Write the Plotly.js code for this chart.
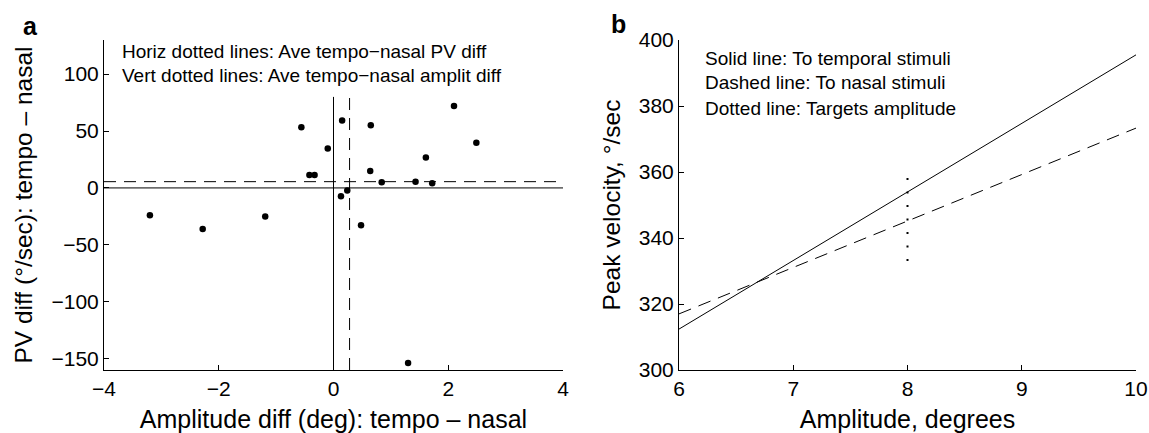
<!DOCTYPE html>
<html>
<head>
<meta charset="utf-8">
<script src="https://cdn.plot.ly/plotly-3.0.1.min.js"></script>
<style>html,body{margin:0;padding:0;background:#fff;}#chart{width:1149px;height:433px;}</style>
</head>
<body>
<div id="chart"></div>
<script>
// Panel a data: tempo - nasal differences per subject
const ampDiff = [-3.20, -2.28, -1.19, -0.56, -0.42, -0.33, -0.10, 0.15, 0.13, 0.24, 0.48, 0.65, 0.64, 0.84, 1.43, 1.61, 1.72, 2.10, 2.49, 1.30];
const pvDiff  = [-23.9, -36.2, -25.1, 53.4, 11.4, 11.4, 34.7, 59.2, -7.3, -2.3, -32.9, 55.1, 14.9, 5.0, 5.5, 26.8, 4.1, 72.0, 39.7, -153.9];
// average differences (dashed reference lines)
const meanPV = 5.5;
const meanAmp = 0.28;
// reference line extents
const aXRange = [-4, 4];
const aYRange = [-160, 130];
const vertLineY = [-160, 80];
const zeroX = [0, 0];
const zeroY = [0, 0];

// Panel b data: main sequence fits
const ampB = [6, 10];
const pvTemporal = [312.4, 395.5];
const pvNasal = [317.0, 373.3];
const targetAmp = [8, 8];
const targetPV = [333, 360.5];
const bXRange = [6, 10];
const bYRange = [300, 400];

const aTicksX = [-4, -2, 0, 2, 4];
const aTicksY = [-150, -100, -50, 0, 50, 100];
const bTicksX = [6, 7, 8, 9, 10];
const bTicksY = [300, 320, 340, 360, 380, 400];

const FONT = 'Liberation Sans, Arial, Helvetica, sans-serif';
const blk = '#000';

const traces = [
  {x: aXRange, y: zeroY, mode: 'lines', line: {color: blk, width: 1}, xaxis: 'x', yaxis: 'y', hoverinfo: 'skip'},
  {x: zeroX, y: vertLineY, mode: 'lines', line: {color: blk, width: 1}, xaxis: 'x', yaxis: 'y', hoverinfo: 'skip'},
  {x: aXRange, y: [meanPV, meanPV], mode: 'lines', line: {color: blk, width: 1, dash: '12px,8px'}, xaxis: 'x', yaxis: 'y'},
  {x: [meanAmp, meanAmp], y: vertLineY, mode: 'lines', line: {color: blk, width: 1, dash: '12px,8px'}, xaxis: 'x', yaxis: 'y'},
  {x: ampDiff, y: pvDiff, mode: 'markers', marker: {color: blk, size: 6.5}, xaxis: 'x', yaxis: 'y'},
  {x: ampB, y: pvTemporal, mode: 'lines', line: {color: blk, width: 1}, xaxis: 'x2', yaxis: 'y2'},
  {x: ampB, y: pvNasal, mode: 'lines', line: {color: blk, width: 1, dash: '13px,8px'}, xaxis: 'x2', yaxis: 'y2'},
  {x: targetAmp, y: targetPV, mode: 'lines', line: {color: blk, width: 2, dash: '2px,11.5px'}, xaxis: 'x2', yaxis: 'y2'}
];

const axBase = {
  showline: true, linecolor: blk, linewidth: 1, mirror: false,
  ticks: 'inside', ticklen: 5, tickcolor: blk, tickwidth: 1,
  showgrid: false, zeroline: false, automargin: false,
  tickfont: {family: FONT, size: 21, color: blk}
};

const W = 1149, H = 433;
const plotTop = 40, plotBot = 370;
const yDom = [(H - plotBot) / H, (H - plotTop) / H];

const layout = {
  width: W, height: H,
  margin: {l: 0, r: 0, t: 0, b: 0},
  paper_bgcolor: '#fff', plot_bgcolor: '#fff',
  showlegend: false,
  font: {family: FONT, color: blk},
  xaxis: Object.assign({}, axBase, {domain: [104 / W, 563 / W], range: aXRange, tickvals: aTicksX,
    anchor: 'y', title: {text: 'Amplitude diff (deg): tempo – nasal', font: {family: FONT, size: 25, color: blk}, standoff: 12}}),
  yaxis: Object.assign({}, axBase, {domain: yDom, range: aYRange, tickvals: aTicksY, anchor: 'x',
    title: {text: 'PV diff (°/sec): tempo – nasal', font: {family: FONT, size: 24.5, color: blk}, standoff: 11}}),
  xaxis2: Object.assign({}, axBase, {domain: [679 / W, 1136 / W], range: bXRange, tickvals: bTicksX,
    anchor: 'y2', title: {text: 'Amplitude, degrees', font: {family: FONT, size: 25, color: blk}, standoff: 12}}),
  yaxis2: Object.assign({}, axBase, {domain: yDom, range: bYRange, tickvals: bTicksY, anchor: 'x2',
    title: {text: 'Peak velocity, °/sec', font: {family: FONT, size: 24.5, color: blk}, standoff: 11}}),
  annotations: [
    {text: '<b>a</b>', xref: 'paper', yref: 'paper', x: 30 / W, y: 1 - 26 / H, xanchor: 'center', yanchor: 'middle', showarrow: false, font: {family: FONT, size: 25, color: blk}},
    {text: '<b>b</b>', xref: 'paper', yref: 'paper', x: 618 / W, y: 1 - 24 / H, xanchor: 'center', yanchor: 'middle', showarrow: false, font: {family: FONT, size: 25, color: blk}},
    {text: 'Horiz dotted lines: Ave tempo−nasal PV diff', xref: 'paper', yref: 'paper', x: 120 / W, y: 1 - 51 / H, xanchor: 'left', yanchor: 'middle', showarrow: false, font: {family: FONT, size: 19, color: blk}},
    {text: 'Vert dotted lines: Ave tempo−nasal amplit diff', xref: 'paper', yref: 'paper', x: 120 / W, y: 1 - 75 / H, xanchor: 'left', yanchor: 'middle', showarrow: false, font: {family: FONT, size: 19, color: blk}},
    {text: 'Solid line: To temporal stimuli', xref: 'paper', yref: 'paper', x: 703 / W, y: 1 - 58 / H, xanchor: 'left', yanchor: 'middle', showarrow: false, font: {family: FONT, size: 19, color: blk}},
    {text: 'Dashed line: To nasal stimuli', xref: 'paper', yref: 'paper', x: 703 / W, y: 1 - 83 / H, xanchor: 'left', yanchor: 'middle', showarrow: false, font: {family: FONT, size: 19, color: blk}},
    {text: 'Dotted line: Targets amplitude', xref: 'paper', yref: 'paper', x: 703 / W, y: 1 - 108 / H, xanchor: 'left', yanchor: 'middle', showarrow: false, font: {family: FONT, size: 19, color: blk}}
  ]
};

Plotly.newPlot('chart', traces, layout, {staticPlot: true, displayModeBar: false});
</script>
</body>
</html>
